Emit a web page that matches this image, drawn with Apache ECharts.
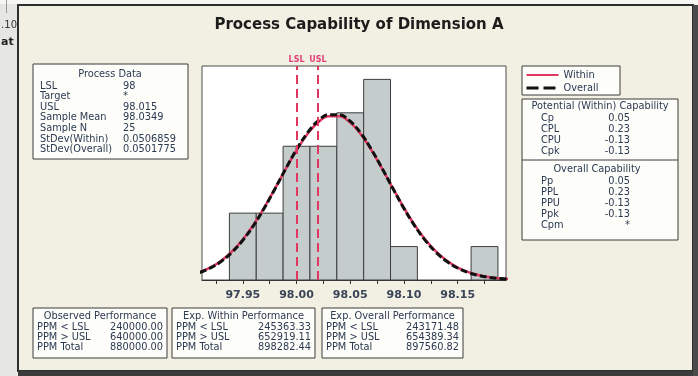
<!DOCTYPE html>
<html>
<head>
<meta charset="utf-8">
<title>Process Capability of Dimension A</title>
<script src="https://cdn.jsdelivr.net/npm/echarts@6/dist/echarts.min.js"></script>
<style>
  html, body { margin: 0; padding: 0; background: #fff; }
  #chart { width: 698px; height: 376px; }
</style>
</head>
<body>
<div id="chart"></div>
<script>
// histogram bins (width 0.025) and counts, N = 25
const binEdges = [97.9375, 97.9625, 97.9875, 98.0125, 98.0375, 98.0625, 98.0875, 98.1125, 98.1375, 98.1625, 98.1875]
const binCounts = [2, 2, 4, 4, 5, 6, 1, 0, 0, 1]

// fitted curves (scaled to counts)
const curveX = [97.91, 97.92, 97.93, 97.94, 97.95, 97.96, 97.97, 97.98, 97.99, 98.00,
  98.01, 98.02, 98.03, 98.04, 98.05, 98.06, 98.07, 98.08, 98.09, 98.10,
  98.11, 98.12, 98.13, 98.14, 98.15, 98.16, 98.17, 98.18, 98.19, 98.20]
const withinY = [0.236, 0.377, 0.578, 0.853, 1.210, 1.651, 2.167, 2.737, 3.323, 3.881,
  4.361, 4.712, 4.897, 4.895, 4.706, 4.352, 3.871, 3.312, 2.725, 2.157,
  1.641, 1.202, 0.846, 0.573, 0.373, 0.234, 0.141, 0.082, 0.046, 0.025]
const overallY = [0.224, 0.361, 0.559, 0.831, 1.188, 1.631, 2.153, 2.731, 3.330, 3.901,
  4.393, 4.755, 4.945, 4.944, 4.749, 4.385, 3.890, 3.318, 2.719, 2.142,
  1.621, 1.179, 0.825, 0.554, 0.358, 0.222, 0.133, 0.076, 0.042, 0.022]

const lsl = 98
const usl = 98.015

const xTicks = [97.925, 97.95, 97.975, 98.0, 98.025, 98.05, 98.075, 98.1, 98.125, 98.15, 98.175]
const xLabels = [97.95, 98.0, 98.05, 98.1, 98.15]

const processRows = [
  ['LSL', '98'], ['Target', '*'], ['USL', '98.015'], ['Sample Mean', '98.0349'],
  ['Sample N', '25'], ['StDev(Within)', '0.0506859'], ['StDev(Overall)', '0.0501775'],
]
const potentialRows = [['Cp', '0.05'], ['CPL', '0.23'], ['CPU', '-0.13'], ['Cpk', '-0.13']]
const overallRows = [['Pp', '0.05'], ['PPL', '0.23'], ['PPU', '-0.13'], ['Ppk', '-0.13'], ['Cpm', '*']]
const observedRows = [['PPM < LSL', '240000.00'], ['PPM > USL', '640000.00'], ['PPM Total', '880000.00']]
const expWithinRows = [['PPM < LSL', '245363.33'], ['PPM > USL', '652919.11'], ['PPM Total', '898282.44']]
const expOverallRows = [['PPM < LSL', '243171.48'], ['PPM > USL', '654389.34'], ['PPM Total', '897560.82']]

const ink = '#2c3a52'
const red = '#e0365f'
const smallFont = '9.8px "DejaVu Sans"'

function txt(x, y, s, align, font, color) {
  return {
    type: 'text', x: x, y: y, silent: true,
    style: {
      text: s, font: font || smallFont, fill: color || ink,
      textAlign: align || 'left', textVerticalAlign: 'middle',
    },
  }
}
function box(x, y, w, h) {
  return {
    type: 'rect', silent: true,
    shape: { x: x, y: y, width: w, height: h },
    style: { fill: '#fdfdfa', stroke: '#3a3a3a', lineWidth: 1 },
  }
}
function tableBox(x, y, w, h, title, rows) {
  const els = [box(x, y, w, h), txt(x + w / 2, y + 8, title, 'center')]
  rows.forEach((r, i) => {
    els.push(txt(x + 4, y + 19 + i * 10.3, r[0]))
    els.push(txt(x + w - 4, y + 19 + i * 10.3, r[1], 'right'))
  })
  return els
}

const graphics = []
// outside of the window frame
graphics.push({ type: 'rect', silent: true, shape: { x: 0, y: 0, width: 17, height: 376 }, style: { fill: '#e6e6e3' } })
graphics.push({ type: 'rect', silent: true, shape: { x: 0, y: 0, width: 698, height: 4 }, style: { fill: '#f6f6f2' } })
graphics.push({ type: 'line', silent: true, shape: { x1: 6.5, y1: 0, x2: 6.5, y2: 13 }, style: { stroke: '#999', lineWidth: 1 } })
graphics.push(txt(17, 25, '.10', 'right', '10px "DejaVu Sans"', '#333'))
graphics.push(txt(1, 42, 'at', 'left', 'bold 11px "DejaVu Sans"', '#222'))
// window frame
graphics.push({ type: 'rect', silent: true, shape: { x: 18, y: 5, width: 675, height: 366 }, style: { fill: 'none', stroke: '#2e2e2e', lineWidth: 2 } })
graphics.push({ type: 'rect', silent: true, shape: { x: 18, y: 371, width: 680, height: 5 }, style: { fill: '#3b3b3b' } })
graphics.push({ type: 'rect', silent: true, shape: { x: 693, y: 5, width: 5, height: 371 }, style: { fill: '#4a4a4a' } })

// process data
graphics.push(box(33, 64, 155, 95))
graphics.push(txt(110, 74, 'Process Data', 'center'))
processRows.forEach((r, i) => {
  graphics.push(txt(40, 86 + i * 10.6, r[0]))
  graphics.push(txt(123, 86 + i * 10.6, r[1]))
})

// legend frame
graphics.push(box(522, 66, 98, 29))

// capability box
graphics.push(box(522, 99, 156, 141))
graphics.push({ type: 'line', silent: true, shape: { x1: 522, y1: 160, x2: 678, y2: 160 }, style: { stroke: '#3a3a3a', lineWidth: 1 } })
graphics.push(txt(600, 106, 'Potential (Within) Capability', 'center'))
potentialRows.forEach((r, i) => {
  graphics.push(txt(541, 118 + i * 11, r[0]))
  graphics.push(txt(630, 118 + i * 11, r[1], 'right'))
})
graphics.push(txt(597, 169, 'Overall Capability', 'center'))
overallRows.forEach((r, i) => {
  graphics.push(txt(541, 181 + i * 11, r[0]))
  graphics.push(txt(630, 181 + i * 11, r[1], 'right'))
})

// performance boxes
graphics.push(...tableBox(33, 308, 134, 50, 'Observed Performance', observedRows))
graphics.push(...tableBox(172, 308, 143, 50, 'Exp. Within Performance', expWithinRows))
graphics.push(...tableBox(322, 308, 141, 50, 'Exp. Overall Performance', expOverallRows))

const barData = []
binCounts.forEach((n, i) => {
  if (n > 0) barData.push([binEdges[i], binEdges[i + 1], n])
})

const chart = echarts.init(document.getElementById('chart'))
chart.setOption({
  animation: false,
  backgroundColor: '#f2f0e2',
  title: {
    text: 'Process Capability of Dimension A',
    left: 354, top: 13, textAlign: 'center',
    textStyle: { fontFamily: 'DejaVu Sans', fontSize: 15, fontWeight: 'bold', color: '#1c1c1c' },
  },
  legend: {
    data: [
      { name: 'Within', lineStyle: { width: 2 } },
      { name: 'Overall', lineStyle: { type: [12, 5], width: 3 } },
    ],
    orient: 'vertical',
    left: 525, top: 70,
    padding: 0,
    itemWidth: 32, itemHeight: 8, itemGap: 3,
    itemStyle: { opacity: 0 },
    textStyle: { fontFamily: 'DejaVu Sans', fontSize: 9.8, color: ink },
  },
  grid: {
    left: 202, top: 66, width: 304, height: 214,
    show: true, backgroundColor: '#ffffff', borderColor: '#4a4a4a', borderWidth: 1,
  },
  xAxis: {
    type: 'value',
    min: 97.912, max: 98.195,
    splitLine: { show: false },
    axisLine: { lineStyle: { color: '#333', width: 1 } },
    axisTick: { customValues: xTicks, length: 4, lineStyle: { color: '#333' } },
    axisLabel: {
      customValues: xLabels,
      formatter: (v) => Number(v).toFixed(2),
      fontFamily: 'DejaVu Sans', fontSize: 11, fontWeight: 'bold', color: '#3a4458', margin: 10,
    },
  },
  yAxis: { type: 'value', min: 0, max: 6.4, show: false },
  graphic: { elements: graphics },
  series: [
    {
      name: 'spec', type: 'line', data: [], z: 1,
      markLine: {
        symbol: 'none', silent: true,
        lineStyle: { color: red, type: [9, 5], width: 2 },
        label: {
          position: 'end', formatter: '{b}', distance: 2,
          fontFamily: 'DejaVu Sans', fontSize: 8, fontWeight: 'bold', color: '#e2407a',
        },
        data: [{ name: 'LSL', xAxis: lsl }, { name: 'USL', xAxis: usl }],
      },
    },
    {
      name: 'hist', type: 'custom', z: 2,
      encode: { x: [0, 1], y: 2 },
      data: barData,
      renderItem: function (params, api) {
        const p0 = api.coord([api.value(0), api.value(2)])
        const p1 = api.coord([api.value(1), 0])
        return {
          type: 'rect',
          shape: { x: p0[0], y: p0[1], width: p1[0] - p0[0], height: p1[1] - p0[1] },
          style: { fill: '#c4cccc', stroke: '#3d3d3d', lineWidth: 1 },
        }
      },
    },
    {
      name: 'Within', type: 'line', z: 3,
      data: curveX.map((x, i) => [x, withinY[i]]),
      smooth: 0.4, symbol: 'none', color: red,
      lineStyle: { color: red, width: 2.5 },
    },
    {
      name: 'Overall', type: 'line', z: 4,
      data: curveX.map((x, i) => [x, overallY[i]]),
      smooth: 0.4, symbol: 'none', color: '#111',
      lineStyle: { color: '#111', width: 3, type: [7, 3] },
    },
  ],
})
window.addEventListener('resize', () => chart.resize())
</script>
</body>
</html>
